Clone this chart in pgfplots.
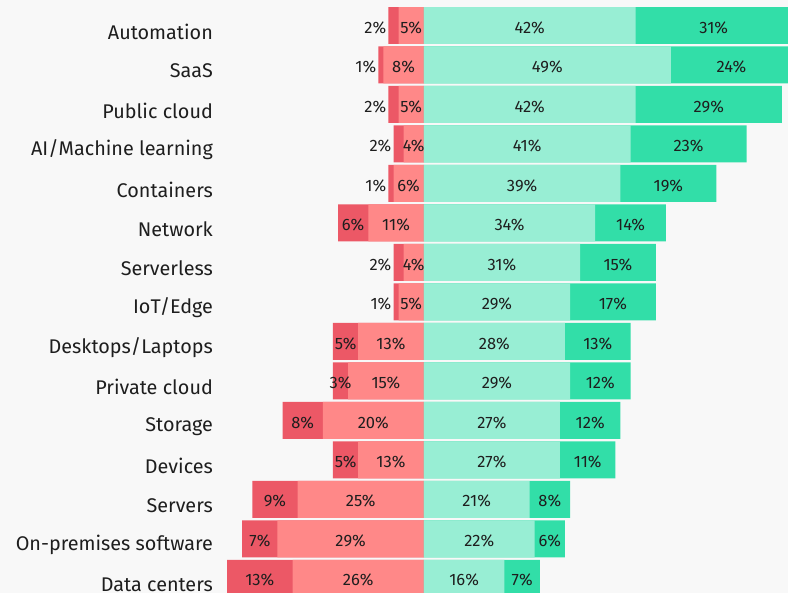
\documentclass[border=0pt]{standalone}
\usepackage{pgfplots}
\pgfplotsset{compat=1.18}
\usepackage{pgfplotstable}
\usepackage{fontspec}
\setmainfont{Fira Sans}
\definecolor{bg}{RGB}{248,248,248}
\definecolor{dred}{RGB}{236,88,102}
\definecolor{lred}{RGB}{255,136,136}
\definecolor{lgreen}{RGB}{152,238,212}
\definecolor{dgreen}{RGB}{50,222,168}
\definecolor{txt}{RGB}{30,30,30}

\pgfplotstableread{
y d l a s
14 2 5 42 31
13 1 8 49 24
12 2 5 42 29
11 2 4 41 23
10 1 6 39 19
9 6 11 34 14
8 2 4 31 15
7 1 5 29 17
6 5 13 28 13
5 3 15 29 12
4 8 20 27 12
3 5 13 27 11
2 9 25 21 8
1 7 29 22 6
0 13 26 16 7
}\data

\begin{document}
\begin{tikzpicture}
\begin{axis}[
 scale only axis, width=788pt, height=593pt,
 xmin=-84, xmax=72.2, ymin=-0.367, ymax=14.646,
 axis background/.style={fill=bg},
 axis line style={draw=none},
 xtick=\empty, ytick={0,...,14},
 yticklabels={Data centers, On-premises software, Servers, Devices, Storage, Private cloud, Desktops/Laptops, IoT/Edge, Serverless, Network, Containers, AI/Machine learning, Public cloud, SaaS, Automation},
 major tick length=0pt,
 yticklabel style={anchor=east, inner sep=0pt, xshift=213pt, yshift=-6pt, font=\fontsize{19.8}{22}\selectfont, text=txt},
 mybar/.style={xbar, bar shift=0pt, bar width=37pt, draw=none},
 lab/.style={only marks, mark=none, point meta=explicit symbolic,
   nodes near coords={\pgfplotspointmeta\%},
   every node near coord/.append style={anchor=center, inner sep=1pt, font=\fontsize{16.5}{19}\selectfont, text=txt, yshift=-2pt}},
]
\addplot[mybar, fill=dred] table[x expr={-\thisrow{d}-\thisrow{l}}, y=y]{\data};
\addplot[mybar, fill=lred] table[x expr={-\thisrow{l}}, y=y]{\data};
\addplot[mybar, fill=dgreen] table[x expr={\thisrow{a}+\thisrow{s}}, y=y]{\data};
\addplot[mybar, fill=lgreen] table[x expr={\thisrow{a}}, y=y]{\data};

\addplot[lab] table[x expr={-\thisrow{l}/2}, y=y, meta=l]{\data};
\addplot[lab] table[x expr={\thisrow{a}/2}, y=y, meta=a]{\data};
\addplot[lab] table[x expr={\thisrow{a}+\thisrow{s}/2}, y=y, meta=s]{\data};
\addplot[lab] coordinates {(-14,9)[6] (-15.5,6)[5] (-16.5,5)[3] (-24,4)[8] (-15.5,3)[5] (-29.5,2)[9] (-32.5,1)[7] (-32.5,0)[13]};
\addplot[lab, every node near coord/.append style={anchor=east, xshift=-1pt}] coordinates {(-7,14)[2] (-9,13)[1] (-7,12)[2] (-6,11)[2] (-7,10)[1] (-6,8)[2] (-6,7)[1]};
\end{axis}
\end{tikzpicture}
\end{document}
